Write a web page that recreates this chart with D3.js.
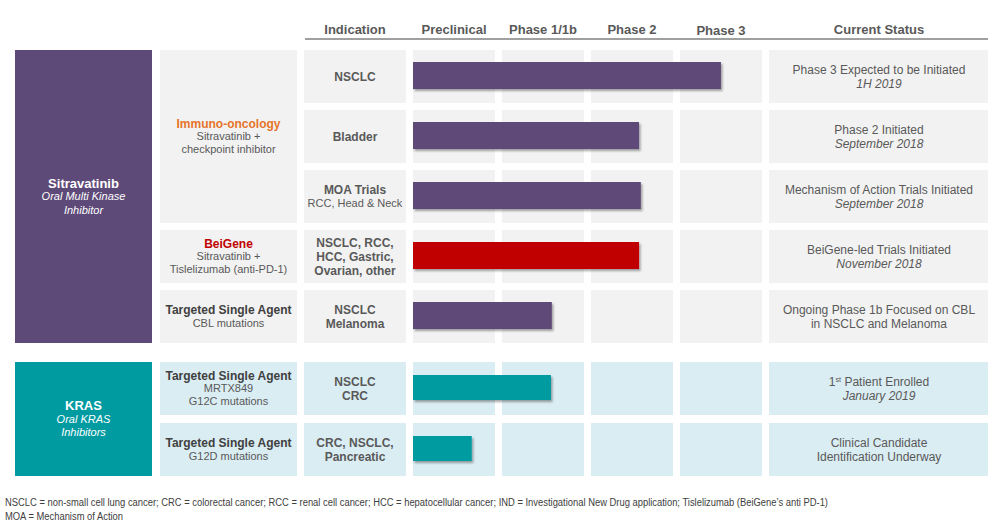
<!DOCTYPE html>
<html>
<head>
<meta charset="utf-8">
<script src="https://cdn.jsdelivr.net/npm/d3@7"></script>
<style>
  body { margin: 0; background: #fff; }
  svg { font-family: "Liberation Sans", Arial, sans-serif; }
</style>
</head>
<body>
<svg id="chart" width="1000" height="530"></svg>
<script>
// phase headers
var phases = ['Preclinical', 'Phase 1/1b', 'Phase 2', 'Phase 3'];

// rows of the pipeline
var groups = [
  {name: 'Sitravatinib', sub: ['Oral Multi Kinase', 'Inhibitor'], color: '#5e4a78', cell: '#f2f2f2', rows: [0, 4]},
  {name: 'KRAS', sub: ['Oral KRAS', 'Inhibitors'], color: '#009aa1', cell: '#daedf3', rows: [5, 6]}
];
var programs = [
  {title: 'Immuno-oncology', tcolor: '#e5742a', lines: ['Sitravatinib +', 'checkpoint inhibitor'], rows: [0, 2]},
  {title: 'BeiGene', tcolor: '#c00000', lines: ['Sitravatinib +', 'Tislelizumab (anti-PD-1)'], rows: [3, 3]},
  {title: 'Targeted Single Agent', tcolor: '#404040', lines: ['CBL mutations'], rows: [4, 4]},
  {title: 'Targeted Single Agent', tcolor: '#404040', lines: ['MRTX849', 'G12C mutations'], rows: [5, 5]},
  {title: 'Targeted Single Agent', tcolor: '#404040', lines: ['G12D mutations'], rows: [6, 6]}
];
var indications = [
  {bold: ['NSCLC'], light: []},
  {bold: ['Bladder'], light: []},
  {bold: ['MOA Trials'], light: ['RCC, Head & Neck']},
  {bold: ['NSCLC, RCC,', 'HCC, Gastric,', 'Ovarian, other'], light: []},
  {bold: ['NSCLC', 'Melanoma'], light: []},
  {bold: ['NSCLC', 'CRC'], light: []},
  {bold: ['CRC, NSCLC,', 'Pancreatic'], light: []}
];
// progress, in phase units (0 = start of preclinical, 4 = end of phase 3)
var progress = [3.46, 2.54, 2.56, 2.54, 1.56, 1.55, 0.66];
var barColors = ['#5e4a78', '#5e4a78', '#5e4a78', '#c00000', '#5e4a78', '#009aa1', '#009aa1'];
var statusMain = ['Phase 3 Expected to be Initiated', 'Phase 2 Initiated', 'Mechanism of Action Trials Initiated',
  'BeiGene-led Trials Initiated', 'Ongoing Phase 1b Focused on CBL', '1st Patient Enrolled', 'Clinical Candidate'];
var statusSub = ['1H 2019', 'September 2018', 'September 2018', 'November 2018', 'in NSCLC and Melanoma',
  'January 2019', 'Identification Underway'];
var statusItalic = [true, true, true, true, false, true, false];
var footnotes = [
  'NSCLC = non-small cell lung cancer; CRC = colorectal cancer; RCC = renal cell cancer; HCC = hepatocellular cancer; IND = Investigational New Drug application; Tislelizumab (BeiGene\u2019s anti PD-1)',
  'MOA = Mechanism of Action'
];

var svg = d3.select('#chart');
var grey = '#595959', dark = '#404040';

var rowH = 53;
// 60px per row, extra gap before the KRAS group
function rowY(i) { return 50 + i * 60 + (i >= 5 ? 12 : 0) + (i >= 6 ? 1 : 0); }
function groupOf(i) { return i >= 5 ? groups[1] : groups[0]; }

// phase scale
var x = d3.scaleLinear().domain([0, 4]).range([413, 769]);
var colGap = 7;

var defs = svg.append('defs');
var f = defs.append('filter').attr('id', 'shadow').attr('x', '-5%').attr('y', '-20%').attr('width', '115%').attr('height', '160%');
f.append('feDropShadow').attr('dx', 1.5).attr('dy', 2).attr('stdDeviation', 1.2).attr('flood-color', '#000').attr('flood-opacity', 0.35);

// header
var headers = [{t: 'Indication', x: 355}].concat(phases.map(function(p, i) {
  return {t: p, x: (x(i) + x(i + 1) - colGap) / 2};
})).concat([{t: 'Current Status', x: 879}]);
svg.selectAll('.hdr').data(headers).enter().append('text')
  .attr('x', function(d) { return d.x; })
  .attr('y', function(d) { return d.t === 'Phase 3' ? 35 : 34; })
  .attr('text-anchor', 'middle')
  .attr('font-size', 13).attr('font-weight', 'bold').attr('fill', grey)
  .text(function(d) { return d.t; });
svg.append('line').attr('x1', 305).attr('x2', 988).attr('y1', 39).attr('y2', 39)
  .attr('stroke', '#808080').attr('stroke-width', 1.5);

function lines(g, cx, cy, items, lh) {
  var top = cy - (items.length - 1) * lh / 2;
  items.forEach(function(it, k) {
    var t = g.append('text').attr('x', cx).attr('y', top + k * lh).attr('dy', '0.35em')
      .attr('text-anchor', 'middle').attr('font-size', it.size)
      .attr('font-weight', it.bold ? 'bold' : 'normal')
      .attr('font-style', it.italic ? 'italic' : 'normal')
      .attr('fill', it.color);
    if (it.sup) {
      t.append('tspan').text(it.sup[0]);
      t.append('tspan').attr('font-size', it.size * 0.6).attr('dy', '-0.5em').text(it.sup[1]);
      t.append('tspan').attr('dy', '0.3em').text(it.sup[2]);
    } else {
      t.text(it.text);
    }
  });
}

// drug blocks
groups.forEach(function(g) {
  var y0 = rowY(g.rows[0]), y1 = rowY(g.rows[1]) + rowH;
  svg.append('rect').attr('x', 15).attr('y', y0).attr('width', 137).attr('height', y1 - y0).attr('fill', g.color);
  lines(svg, 83.5, (y0 + y1) / 2, [{text: g.name, size: 13, bold: true, color: '#fff'}].concat(
    g.sub.map(function(s) { return {text: s, size: 11, italic: true, color: '#fff'}; })), 13.5);
});

// program cells
programs.forEach(function(p) {
  var y0 = rowY(p.rows[0]), y1 = rowY(p.rows[1]) + rowH;
  svg.append('rect').attr('x', 160).attr('y', y0).attr('width', 137).attr('height', y1 - y0)
    .attr('fill', groupOf(p.rows[0]).cell);
  lines(svg, 228.5, (y0 + y1) / 2, [{text: p.title, size: 12, bold: true, color: p.tcolor}].concat(
    p.lines.map(function(s) { return {text: s, size: 11, color: grey}; })), 13);
});

// rows
var rows = svg.selectAll('.row').data(indications).enter().append('g').attr('class', 'row')
  .attr('transform', function(d, i) { return 'translate(0,' + rowY(i) + ')'; });

rows.append('rect').attr('x', 304).attr('width', 102).attr('height', rowH)
  .attr('fill', function(d, i) { return groupOf(i).cell; });
rows.each(function(d, i) {
  var g = d3.select(this);
  lines(g, 355, rowH / 2, d.bold.map(function(s) { return {text: s, size: 12, bold: true, color: grey}; })
    .concat(d.light.map(function(s) { return {text: s, size: 11, color: grey}; })), 14);
  phases.forEach(function(p, k) {
    g.append('rect').attr('x', x(k)).attr('width', x(k + 1) - x(k) - colGap).attr('height', rowH)
      .attr('fill', groupOf(i).cell);
  });
  g.append('rect').attr('x', 769).attr('width', 219).attr('height', rowH).attr('fill', groupOf(i).cell);
  var main = {text: statusMain[i], size: 12, color: grey};
  if (statusMain[i].indexOf('1st') === 0) main.sup = ['1', 'st', statusMain[i].slice(3)];
  lines(g, 879, rowH / 2, [main, {text: statusSub[i], size: 12, italic: statusItalic[i], color: grey}], 14);
});

// progress bars
rows.append('rect')
  .attr('x', x(0)).attr('y', function(d, i) { return i >= 5 ? 13 : 12; })
  .attr('width', function(d, i) { return x(progress[i]) - x(0); })
  .attr('height', function(d, i) { return i >= 5 ? 25 : 27; })
  .attr('fill', function(d, i) { return barColors[i]; })
  .attr('filter', 'url(#shadow)');

// footnotes
svg.selectAll('.foot').data(footnotes).enter().append('text')
  .attr('x', 5).attr('y', function(d, i) { return 506 + i * 14; })
  .attr('font-size', 10).attr('fill', dark)
  .attr('textLength', function(d, i) { return i === 0 ? 823 : 118; })
  .attr('lengthAdjust', 'spacingAndGlyphs')
  .text(function(d) { return d; });
</script>
</body>
</html>
